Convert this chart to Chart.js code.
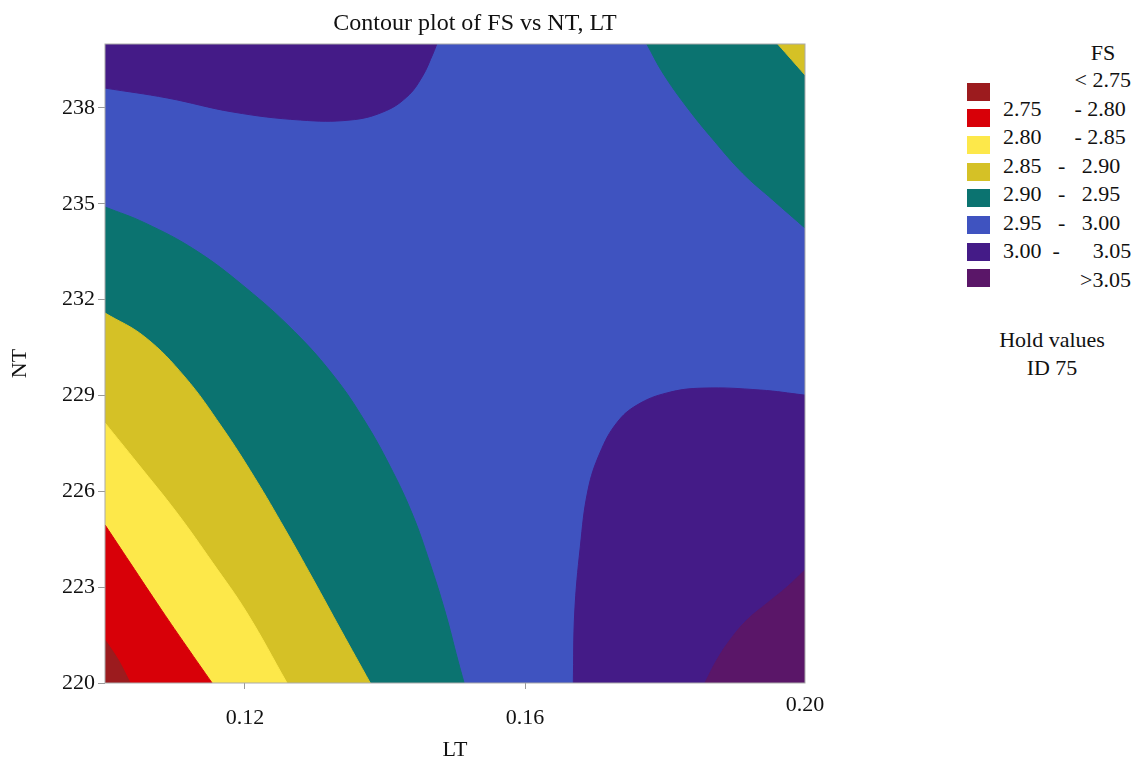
<!DOCTYPE html>
<html>
<head>
<meta charset="utf-8">
<title>Contour plot of FS vs NT, LT</title>
<script src="https://cdn.jsdelivr.net/npm/chart.js@4.4.1/dist/chart.umd.min.js"></script>
<style>
  body { margin: 0; background: #fff; }
  #wrap { position: relative; width: 1141px; height: 762px; font-family: "Liberation Serif", "Times New Roman", serif; color: #111; }
  #contour { position: absolute; left: 0; top: 0; }
  .plot-title { position: absolute; left: 0; width: 950px; top: 9px; line-height: 26px; font-size: 24px; text-align: center; }
  .legend-head { position: absolute; left: 1053px; width: 100px; top: 40px; line-height: 26px; font-size: 22px; text-align: center; }
  .legend-box { position: absolute; left: 967px; width: 23px; height: 18px; }
  .legend-text { position: absolute; left: 1003px; line-height: 26px; font-size: 22px; white-space: pre; }
  .hold { position: absolute; left: 952px; width: 200px; top: 326px; line-height: 28px; font-size: 22px; text-align: center; }
</style>
</head>
<body>
<div id="wrap">
  <canvas id="contour" width="950" height="762"></canvas>
  <div class="plot-title">Contour plot of FS vs NT, LT</div>
  <div class="legend-head">FS</div>
  <div id="legend"></div>
  <div class="hold">Hold values<br>ID 75</div>
</div>
<script>
const LT_MIN = 0.10, LT_MAX = 0.20;
const NT_MIN = 220, NT_MAX = 240;

const xTickValues = [0.12, 0.16];
const xEdgeTick = 0.20;
const yTickValues = [220, 223, 226, 229, 232, 235, 238];

const levelLabels = [
  "             < 2.75",
  "2.75      - 2.80",
  "2.80      - 2.85",
  "2.85   -   2.90",
  "2.90   -   2.95",
  "2.95   -   3.00",
  "3.00  -      3.05",
  "              >3.05",
];
const levelColors = ["#9c1b1e", "#d80008", "#fde84a", "#d5c126", "#0b7370", "#3f53c0", "#441b87", "#5a1668"];

// contour boundaries, LT ascending
// left bands: the region under each line belongs to the lower level
const blueTealLT = [0.1000, 0.1057, 0.1129, 0.1200, 0.1271, 0.1329, 0.1371, 0.1407, 0.1439, 0.1464, 0.1486, 0.1504, 0.1513];
const blueTealNT = [234.90, 234.40, 233.55, 232.39, 230.99, 229.55, 228.20, 226.79, 225.29, 223.76, 222.22, 220.72, 220.00];

const tealOchreLT = [0.1000, 0.1057, 0.1114, 0.1167, 0.1214, 0.1257, 0.1297, 0.1337, 0.1379];
const tealOchreNT = [231.58, 230.83, 229.58, 228.01, 226.42, 224.82, 223.26, 221.66, 220.00];

const ochreYellowLT = [0.1000, 0.1046, 0.1103, 0.1154, 0.1203, 0.1260];
const ochreYellowNT = [228.14, 226.89, 225.32, 223.76, 222.19, 220.00];

const yellowRedLT = [0.1000, 0.1036, 0.1081, 0.1117, 0.1153];
const yellowRedNT = [224.95, 223.76, 222.28, 221.13, 220.00];

const redDarkLT = [0.1000, 0.1019, 0.1036];
const redDarkNT = [221.35, 220.72, 220.00];

// top-left 3.00-3.05 pocket (region above the line)
const topLeftLT = [0.1000, 0.1089, 0.1183, 0.1279, 0.1350, 0.1397, 0.1431, 0.1453, 0.1469, 0.1474];
const topLeftNT = [238.62, 238.31, 237.87, 237.62, 237.62, 237.87, 238.34, 238.97, 239.72, 240.00];

// top-right teal and the small 2.85-2.90 corner (regions above the line)
const topRightLT = [0.1774, 0.1797, 0.1831, 0.1869, 0.1911, 0.1954, 0.2000];
const topRightNT = [240.00, 239.09, 238.03, 237.00, 235.96, 235.12, 234.24];

const cornerOchreLT = [0.1961, 0.2000];
const cornerOchreNT = [240.00, 239.03];

// bottom-right pockets (regions under the line)
const lowRightLT = [0.1669, 0.1671, 0.1679, 0.1690, 0.1707, 0.1731, 0.1760, 0.1803, 0.1854, 0.1936, 0.2000];
const lowRightNT = [220.00, 222.19, 224.26, 226.04, 227.20, 228.14, 228.70, 229.08, 229.23, 229.17, 229.01];

const peakLT = [0.1857, 0.1874, 0.1893, 0.1917, 0.1946, 0.1974, 0.2000];
const peakNT = [220.00, 220.72, 221.35, 221.97, 222.50, 223.00, 223.54];

function points(lts, nts) {
  return lts.map((x, i) => ({ x, y: nts[i] }));
}

function area(data, level, order, fill) {
  return {
    data,
    showLine: true,
    fill,
    tension: 0.4,
    pointRadius: 0,
    borderWidth: 1,
    borderColor: levelColors[level],
    backgroundColor: levelColors[level],
    order,
  };
}

const datasets = [
  area(points([LT_MIN, LT_MAX], [NT_MAX, NT_MAX]), 5, 10, "start"),
  area(points(blueTealLT, blueTealNT), 4, 9, "start"),
  area(points(tealOchreLT, tealOchreNT), 3, 8, "start"),
  area(points(ochreYellowLT, ochreYellowNT), 2, 7, "start"),
  area(points(yellowRedLT, yellowRedNT), 1, 6, "start"),
  area(points(redDarkLT, redDarkNT), 0, 5, "start"),
  area(points(topLeftLT, topLeftNT), 6, 9, "end"),
  area(points(topRightLT, topRightNT), 4, 9, "end"),
  area(points(cornerOchreLT, cornerOchreNT), 3, 8, "end"),
  area(points(lowRightLT, lowRightNT), 6, 9, "start"),
  area(points(peakLT, peakNT), 7, 8, "start"),
];

// frame round the plot, plus the raised 0.20 label at the right end
const framePlugin = {
  id: "frame",
  afterDraw(chart) {
    const { ctx, chartArea, scales } = chart;
    ctx.save();
    ctx.strokeStyle = "#aaaaaa";
    ctx.lineWidth = 1;
    ctx.strokeRect(chartArea.left, chartArea.top, chartArea.right - chartArea.left, chartArea.bottom - chartArea.top);
    ctx.fillStyle = "#111";
    ctx.font = '22px "Liberation Serif", serif';
    ctx.textAlign = "center";
    ctx.textBaseline = "middle";
    ctx.fillText(xEdgeTick.toFixed(2), scales.x.getPixelForValue(xEdgeTick), chartArea.bottom + 22);
    ctx.restore();
  },
};

Chart.defaults.font.family = '"Liberation Serif", "Times New Roman", serif';
Chart.defaults.color = "#111";

new Chart(document.getElementById("contour"), {
  type: "scatter",
  data: { datasets },
  options: {
    responsive: false,
    animation: false,
    events: [],
    layout: { padding: { top: 44, right: 145, left: 0, bottom: 0 } },
    plugins: {
      legend: { display: false },
      tooltip: { enabled: false },
    },
    scales: {
      x: {
        type: "linear",
        min: LT_MIN,
        max: LT_MAX,
        afterFit: s => { s.height = 79; },
        afterBuildTicks: s => { s.ticks = xTickValues.map(value => ({ value })); },
        ticks: {
          padding: 16,
          font: { size: 22 },
          callback: v => Number(v).toFixed(2),
        },
        grid: { drawOnChartArea: false, tickLength: 6, color: "#999" },
        border: { display: false },
        title: {
          display: true,
          text: "LT",
          font: { size: 22, lineHeight: 1 },
          padding: { top: 0, bottom: 1 },
        },
      },
      y: {
        type: "linear",
        min: NT_MIN,
        max: NT_MAX,
        afterFit: s => { s.width = 105; },
        afterBuildTicks: s => { s.ticks = yTickValues.map(value => ({ value })); },
        ticks: {
          padding: 3,
          font: { size: 22 },
        },
        grid: { drawOnChartArea: false, tickLength: 7, color: "#999" },
        border: { display: false },
        title: {
          display: true,
          text: "NT",
          font: { size: 22, lineHeight: 1 },
          padding: { top: 9, bottom: 0 },
        },
      },
    },
  },
  plugins: [framePlugin],
});

const legend = document.getElementById("legend");
legend.innerHTML = levelLabels.map((label, i) => `
  <div class="legend-box" style="top:${(82.7 + 26.67 * i).toFixed(1)}px;background:${levelColors[i]}"></div>
  <div class="legend-text" style="top:${(67 + 28.5 * i).toFixed(1)}px">${label.replace("<", "&lt;").replace(">", "&gt;")}</div>
`).join("");
</script>
</body>
</html>
